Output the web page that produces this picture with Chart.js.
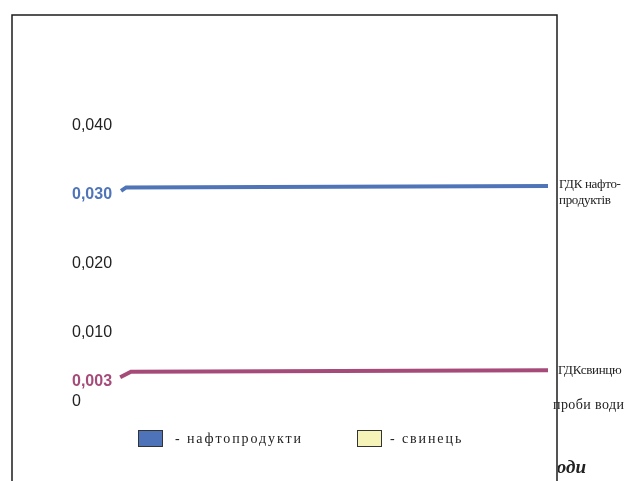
<!DOCTYPE html>
<html>
<head>
<meta charset="utf-8">
<script src="https://cdn.jsdelivr.net/npm/chart.js@4.4.0/dist/chart.umd.min.js"></script>
<style>
    body { margin: 0; background: #fff; }
    canvas { display: block; }
</style>
</head>
<body>
<canvas id="gdkChart" width="624" height="481"></canvas>
<script>
// положення проб уздовж осі (0..100) і вміст, мг/дм3
const naftoX = [0.7, 1.9, 100];
const naftoY = [0.0306, 0.0311, 0.0313];
const svynetsX = [0.5, 3.0, 100];
const svynetsY = [0.0036, 0.0044, 0.0046];

const yTicks = [0, 0.003, 0.01, 0.02, 0.03, 0.04];

const legendLabels = ['- нафтопродукти', '- свинець'];
const legendColors = ['#4f73b8', '#f6f3b8'];

const naftoColor = '#4f74b8';
const svynetsColor = '#a64b79';

const toPoints = (xs, ys) => xs.map((x, i) => ({x: x, y: ys[i]}));
const tickValue = c => (c && c.tick) ? c.tick.value : null;

// рамка, підписи ГДК і легенда
const decorPlugin = {
    id: 'decor',
    beforeDraw(chart) {
        const ctx = chart.ctx;
        ctx.save();
        ctx.fillStyle = '#fff';
        ctx.fillRect(0, 0, chart.width, chart.height);
        ctx.restore();
    },
    afterDraw(chart) {
        const ctx = chart.ctx;
        const area = chart.chartArea;
        const y = chart.scales.y;
        ctx.save();

        // підписи праворуч від ліній
        ctx.fillStyle = '#222';
        ctx.textBaseline = 'middle';
        ctx.textAlign = 'left';
        ctx.font = '13px "Liberation Serif"';
        ctx.letterSpacing = '-0.3px';
        const yn = y.getPixelForValue(naftoY[naftoY.length - 1]);
        ctx.fillText('ГДК нафто-', area.right + 11, yn - 1);
        ctx.fillText('продуктів', area.right + 11, yn + 15);
        const ys = y.getPixelForValue(svynetsY[svynetsY.length - 1]);
        ctx.fillText('ГДКсвинцю', area.right + 10, ys);
        ctx.font = '14px "Liberation Serif"';
        ctx.letterSpacing = '0.4px';
        ctx.fillText('проби води', area.right + 5, area.bottom + 3);

        // обрізаний підпис знизу
        ctx.save();
        ctx.beginPath();
        ctx.rect(558, 440, 80, 41);
        ctx.clip();
        ctx.font = 'bold italic 19px "Liberation Serif"';
        ctx.letterSpacing = '0px';
        ctx.textAlign = 'right';
        ctx.fillText('води', 586, 468);
        ctx.restore();

        // легенда
        const boxX = [138, 357];
        const textX = [175, 390];
        ctx.font = '14px "Liberation Serif"';
        ctx.letterSpacing = '1.9px';
        legendLabels.forEach((label, i) => {
            ctx.fillStyle = legendColors[i];
            ctx.fillRect(boxX[i], 430, 24, 16);
            ctx.strokeStyle = '#333';
            ctx.lineWidth = 1;
            ctx.strokeRect(boxX[i] + 0.5, 430.5, 24, 16);
            ctx.fillStyle = '#222';
            ctx.fillText(label, textX[i], 439);
        });

        // рамка
        ctx.strokeStyle = '#1c1c1c';
        ctx.lineWidth = 1.5;
        ctx.beginPath();
        ctx.moveTo(12, chart.height + 2);
        ctx.lineTo(12, 15);
        ctx.lineTo(557, 15);
        ctx.lineTo(557, chart.height + 2);
        ctx.stroke();
        ctx.restore();
    }
};

const ctx = document.getElementById('gdkChart').getContext('2d');
new Chart(ctx, {
    type: 'line',
    data: {
        datasets: [{
            label: 'нафтопродукти',
            data: toPoints(naftoX, naftoY),
            borderColor: naftoColor,
            borderWidth: 4,
            pointRadius: 0,
            tension: 0
        }, {
            label: 'свинець',
            data: toPoints(svynetsX, svynetsY),
            borderColor: svynetsColor,
            borderWidth: 4,
            pointRadius: 0,
            tension: 0
        }]
    },
    options: {
        responsive: false,
        animation: false,
        layout: {
            padding: {left: 72, right: 76, top: 57, bottom: 79}
        },
        plugins: {
            legend: {display: false},
            tooltip: {enabled: false}
        },
        scales: {
            x: {
                type: 'linear',
                min: 0,
                max: 100,
                display: false
            },
            y: {
                min: 0,
                max: 0.05,
                grid: {display: false, drawTicks: false},
                border: {display: false},
                afterBuildTicks: axis => {
                    axis.ticks = yTicks.map(v => ({value: v}));
                },
                ticks: {
                    crossAlign: 'far',
                    padding: 3,
                    color: c => tickValue(c) === 0.03 ? naftoColor
                        : tickValue(c) === 0.003 ? svynetsColor : '#222',
                    font: c => ({
                        family: '"Liberation Sans", Arial, sans-serif',
                        size: 16,
                        weight: (tickValue(c) === 0.03 || tickValue(c) === 0.003) ? 'bold' : 'normal'
                    }),
                    callback: v => v === 0 ? '0' : v.toFixed(3).replace('.', ',')
                }
            }
        }
    },
    plugins: [decorPlugin]
});
</script>
</body>
</html>
